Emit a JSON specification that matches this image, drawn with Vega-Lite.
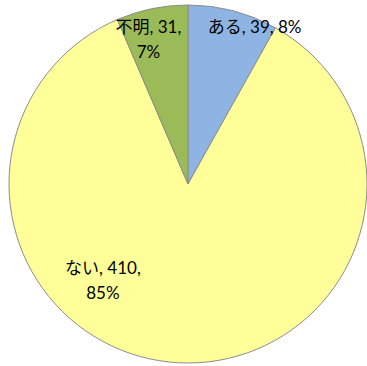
{
  "$schema": "https://vega.github.io/schema/vega-lite/v6.json",
  "width": 367,
  "height": 366,
  "autosize": {"type": "fit", "contains": "padding"},
  "padding": {"left": 9, "right": 0, "top": 5, "bottom": 3},
  "background": "white",
  "view": {"stroke": null},
  "data": {
    "values": [
      {"cat": "ある", "value": 39, "label": "ある, 39, 8%"},
      {"cat": "ない", "value": 410, "label": "ない, 410,\n85%"},
      {"cat": "不明", "value": 31, "label": "不明, 31,\n7%"}
    ]
  },
  "encoding": {
    "theta": {"field": "value", "type": "quantitative", "stack": true},
    "color": {
      "field": "cat",
      "type": "nominal",
      "sort": ["ある", "ない", "不明"],
      "scale": {"domain": ["ある", "ない", "不明"], "range": ["#8EB4E3", "#FFFF99", "#9BBB59"]},
      "legend": null
    }
  },
  "layer": [
    {
      "mark": {"type": "arc", "outerRadius": 179, "stroke": "#8c8c8c", "strokeWidth": 1}
    },
    {
      "mark": {
        "type": "text",
        "font": "Lato, 'Noto Sans CJK JP'",
        "fontSize": 17,
        "color": "black",
        "align": "center",
        "baseline": "middle",
        "lineBreak": "\n",
        "lineHeight": 25,
        "radius": {"expr": "datum.cat === 'ある' ? 161 : datum.cat === '不明' ? 147 : 97"},
        "dx": {"expr": "datum.cat === 'ある' ? 26 : datum.cat === '不明' ? -10 : -80"},
        "dy": {"expr": "datum.cat === 'ある' ? 0 : -12"}
      },
      "encoding": {
        "text": {"field": "label"},
        "color": {"value": "black"}
      }
    }
  ]
}
